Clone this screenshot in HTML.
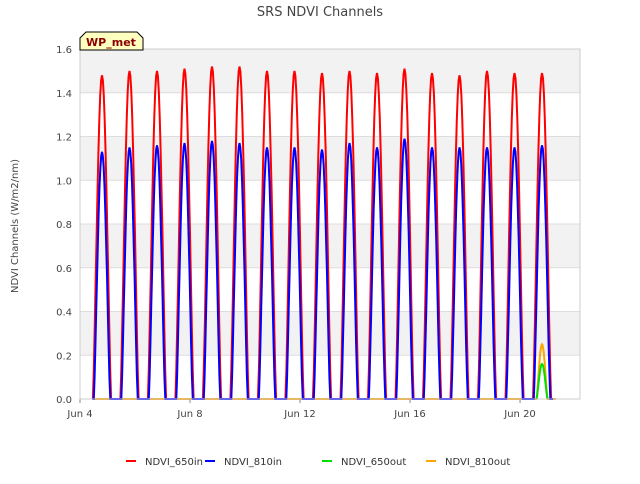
<!DOCTYPE html>
<html><head><meta charset="utf-8"><style>
body{margin:0;background:#fff;font-family:"DejaVu Sans","Liberation Sans",sans-serif}
</style></head><body>
<svg id="c" width="640" height="480" xmlns="http://www.w3.org/2000/svg">
<text x="320" y="16" text-anchor="middle" font-size="13" fill="#444">SRS NDVI Channels</text>
<g id="bands"></g><g id="grid"></g><g id="series"></g><g id="axes"></g>
<text transform="translate(18,226) rotate(-90)" text-anchor="middle" font-size="10" fill="#444">NDVI Channels (W/m2/nm)</text>
<g>
<path d="M80,50 L80,38 L86,32 L137,32 L143,38 L143,50 Z" fill="#ffffc0" stroke="#000" stroke-width="1"/>
<text x="111" y="46" text-anchor="middle" font-size="11" font-weight="bold" fill="#8b0000">WP_met</text>
</g>
<g id="legend"></g>
</svg>
<script>
const peakDays=[4.8,5.8,6.8,7.8,8.8,9.8,10.8,11.8,12.8,13.8,14.8,15.8,16.8,17.8,18.8,19.8,20.8];
const red650in=[1.48,1.50,1.50,1.51,1.52,1.52,1.50,1.50,1.49,1.50,1.49,1.51,1.49,1.48,1.50,1.49,1.49];
const blue810in=[1.13,1.15,1.16,1.17,1.18,1.17,1.15,1.15,1.14,1.17,1.15,1.19,1.15,1.15,1.15,1.15,1.16];
const outDays=[20.8];
const green650out=[0.16];
const orange810out=[0.25];
const yTicks=[0,0.2,0.4,0.6,0.8,1.0,1.2,1.4,1.6];
const xTickDays=[4,8,12,16,20];
const xTickLabels=["Jun 4","Jun 8","Jun 12","Jun 16","Jun 20"];
const X0=80,X1=580,Y0=399,Y1=49,D0=4,D1=22.18,V1=1.6;
const sx=d=>X0+(d-D0)/(D1-D0)*(X1-X0);
const sy=v=>Y0-v/V1*(Y0-Y1);
const NS="http://www.w3.org/2000/svg";
function mk(p,t,a){const e=document.createElementNS(NS,t);for(const k in a)e.setAttribute(k,a[k]);document.getElementById(p).appendChild(e);return e;}
for(let i=0;i<yTicks.length-1;i++){const r=mk('bands','rect',{x:X0,y:sy(yTicks[i+1]),width:X1-X0,height:sy(yTicks[i])-sy(yTicks[i+1]),fill:i%2?'#f2f2f2':'#fff'});

}
yTicks.forEach(v=>{const l=mk('grid','line',{x1:X0,x2:X1,y1:sy(v),y2:sy(v),stroke:'#ddd'});


const t=mk('axes','text',{x:X0-8,y:sy(v)+4,'text-anchor':'end','font-size':'10',fill:'#444'});t.textContent=v.toFixed(1);

});
xTickDays.forEach((d,i)=>{const t=mk('axes','text',{x:sx(d),y:417,'text-anchor':'middle','font-size':'10',fill:'#444'});t.textContent=xTickLabels[i];


const tk=mk('axes','line',{x1:sx(d),x2:sx(d),y1:Y0,y2:Y0+4,stroke:'#888'});

});
const ax=mk('axes','rect',{x:X0,y:Y1,width:X1-X0,height:Y0-Y1,fill:'none',stroke:'#ccc'});


function series(days,vals,hw,color,name,start,end){
 let pts=[[start,0]];
 days.forEach((d,i)=>{for(let k=-10;k<=10;k++){const t=k/10;pts.push([d+t*hw,vals[i]*Math.cos(t*Math.PI/2)**1.3]);}});
 pts.push([end,0]);
 const s=mk('series','polyline',{points:pts.map(p=>sx(p[0]).toFixed(1)+','+sy(p[1]).toFixed(1)).join(' '),fill:'none',stroke:color,'stroke-width':2});
 
 
}
series(outDays,orange810out,0.2,'orange','series-ndvi-810out',4.5,21.3);
series(outDays,green650out,0.2,'#00dd00','series-ndvi-650out',20.6,21.0);
series(peakDays,red650in,0.33,'red','series-ndvi-650in',4.45,21.2);
series(peakDays,blue810in,0.3,'blue','series-ndvi-810in',4.45,21.2);
const leg=[['NDVI_650in','red'],['NDVI_810in','blue'],['NDVI_650out','#00dd00'],['NDVI_810out','orange']];
const lx=[126,205,322,426];
leg.forEach((l,i)=>{const g=mk('legend','g',{});


const a=document.createElementNS(NS,'line');a.setAttribute('x1',lx[i]);a.setAttribute('x2',lx[i]+10);a.setAttribute('y1',461);a.setAttribute('y2',461);a.setAttribute('stroke',l[1]);a.setAttribute('stroke-width',2);g.appendChild(a);
const t=document.createElementNS(NS,'text');t.setAttribute('x',lx[i]+19);t.setAttribute('y',465);t.setAttribute('font-size','10');t.setAttribute('fill','#333');t.textContent=l[0];g.appendChild(t);});
</script>
</body></html>
